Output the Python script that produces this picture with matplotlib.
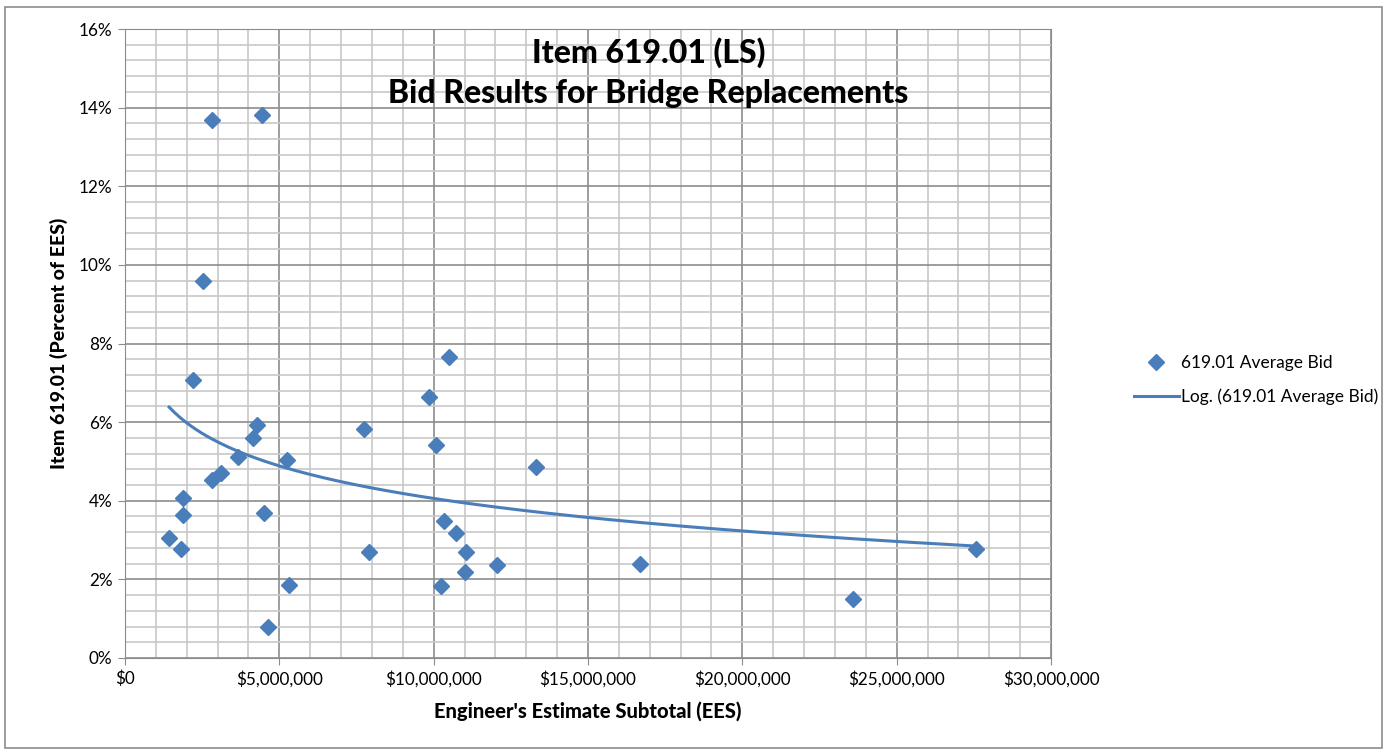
import numpy as np
import matplotlib
matplotlib.use("Agg")
import matplotlib.pyplot as plt
from matplotlib.ticker import FuncFormatter, MultipleLocator
from matplotlib.patches import Rectangle

# Data: Engineer's Estimate Subtotal ($) and Item 619.01 percent of EES
ees = [1.43e6, 1.81e6, 1.88e6, 1.88e6, 2.20e6, 2.53e6, 2.82e6, 2.82e6, 3.11e6, 3.66e6,
       4.15e6, 4.28e6, 4.44e6, 4.50e6, 4.63e6, 5.25e6, 5.31e6, 7.74e6, 7.90e6, 9.85e6,
       10.07e6, 10.24e6, 10.33e6, 10.50e6, 10.72e6, 11.01e6, 11.05e6, 12.05e6, 13.31e6,
       16.68e6, 23.58e6, 27.57e6]
pct = [3.05, 2.77, 4.07, 3.64, 7.07, 9.59, 13.69, 4.53, 4.71, 5.11,
       5.60, 5.93, 13.81, 3.69, 0.79, 5.04, 1.86, 5.83, 2.70, 6.64,
       5.42, 1.83, 3.49, 7.66, 3.18, 2.19, 2.70, 2.37, 4.86,
       2.39, 1.50, 2.77]

title = "Item 619.01 (LS)\nBid Results for Bridge Replacements"
xlabel = "Engineer's Estimate Subtotal (EES)"
ylabel = "Item 619.01 (Percent of EES)"
series_name = "619.01 Average Bid"
trend_name = "Log. (619.01 Average Bid)"

plt.rcParams['font.family'] = ['Lato', 'DejaVu Sans']

blue = '#4A7EBB'
x = np.array(ees)
y = np.array(pct) / 100.0

fig = plt.figure(figsize=(13.85, 7.54), dpi=100)
ax = fig.add_axes([125/1385, 1-658/754, (1051-125)/1385, (658-29)/754])

# grid
ax.set_xlim(0, 30e6)
ax.set_ylim(0, 0.16)
ax.xaxis.set_major_locator(MultipleLocator(5e6))
ax.xaxis.set_minor_locator(MultipleLocator(1e6))
ax.yaxis.set_major_locator(MultipleLocator(0.02))
ax.yaxis.set_minor_locator(MultipleLocator(0.004))
ax.grid(which='minor', color='#C8C8C8', linewidth=1.2)
ax.grid(which='major', color='#8C8C8C', linewidth=1.2)
ax.set_axisbelow(True)
ax.tick_params(which='minor', length=0)
ax.tick_params(which='major', length=5, color='#8C8C8C', labelsize=12.3, pad=4)
for s in ax.spines.values():
    s.set_color('#8C8C8C')
ax.xaxis.set_major_formatter(FuncFormatter(lambda v, p: "${:,.0f}".format(v)))
ax.yaxis.set_major_formatter(FuncFormatter(lambda v, p: "{:.0f}%".format(v*100)))

# points
ax.plot(x, y, linestyle='none', marker='D', markersize=8, color=blue,
        markeredgecolor=blue, label=series_name, zorder=3)

# logarithmic trendline (least squares on ln x)
a, b = np.polyfit(np.log(x), y, 1)
xs = np.linspace(x.min(), x.max(), 300)
ax.plot(xs, a*np.log(xs) + b, color=blue, linewidth=2.2, label=trend_name, zorder=2)

ax.text(0.5655, 0.987, title, transform=ax.transAxes, ha='center', va='top',
        fontsize=23, fontweight='black', linespacing=1.45)
ax.set_xlabel(xlabel, fontsize=14.5, fontweight='black', labelpad=10)
ax.set_ylabel(ylabel, fontsize=14, fontweight='black', labelpad=8)

leg = fig.legend(loc='center left', bbox_to_anchor=(1118/1385, 1-380/754),
                 frameon=False, fontsize=12.5, handlelength=2.6, labelspacing=1.0,
                 handletextpad=0.15)

fig.add_artist(Rectangle((5/1385, 6/754), 1377/1385, 741/754, transform=fig.transFigure,
                         fill=False, edgecolor='#8C8C8C', linewidth=1.2))

fig.savefig('out.png', dpi=100)
